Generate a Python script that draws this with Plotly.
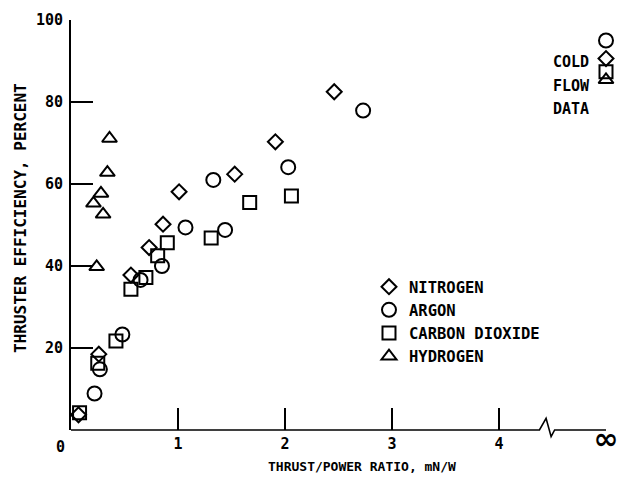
import plotly.graph_objects as go

# ---- data (x = thrust/power ratio, mN/W ; y = thruster efficiency, percent)
INF_POS = 5.0  # position of the "infinity" tick on the broken axis

nitrogen_x = [0.07, 0.26, 0.56, 0.73, 0.86, 1.01, 1.53, 1.91, 2.46]
nitrogen_y = [3.7, 18.5, 37.8, 44.5, 50.2, 58.1, 62.4, 70.3, 82.5]
nitrogen_cold = 90.6

argon_x = [0.22, 0.27, 0.48, 0.65, 0.85, 1.07, 1.33, 1.44, 2.03, 2.73]
argon_y = [8.9, 14.8, 23.3, 36.6, 40.0, 49.4, 61.0, 48.8, 64.1, 77.9]
argon_cold = 95.0

co2_x = [0.08, 0.25, 0.42, 0.56, 0.70, 0.81, 0.90, 1.31, 1.67, 2.06]
co2_y = [4.2, 16.3, 21.7, 34.3, 37.2, 42.5, 45.7, 46.8, 55.5, 57.1]
co2_cold = 87.4

hydrogen_x = [0.24, 0.21, 0.28, 0.30, 0.34, 0.36]
hydrogen_y = [39.8, 55.3, 57.7, 52.6, 62.8, 71.1]
hydrogen_cold = 85.4

x_tickvals = [1, 2, 3, 4, INF_POS]
x_ticktext = ["1", "2", "3", "4",
              '<span style="font-size:30px;font-family:DejaVu Sans">∞</span>']
y_tickvals = [20, 40, 60, 80, 100]
cold_labels = ["COLD", "FLOW", "DATA"]

FONT = "DejaVu Sans Mono, Liberation Mono, monospace"

series = [
    ("NITROGEN", nitrogen_x, nitrogen_y, nitrogen_cold, "diamond-open", 11.5),
    ("ARGON", argon_x, argon_y, argon_cold, "circle-open", 14),
    ("CARBON DIOXIDE", co2_x, co2_y, co2_cold, "square-open", 13),
    ("HYDROGEN", hydrogen_x, hydrogen_y, hydrogen_cold, "triangle-up-open", 13),
]

fig = go.Figure()
for name, xs, ys, cold, sym, size in series:
    fig.add_trace(go.Scatter(
        x=xs + [INF_POS], y=ys + [cold], mode="markers", name=name,
        marker=dict(symbol=sym, size=size, color="black", line=dict(width=2, color="black")),
        cliponaxis=False,
    ))

W, H = 621, 479
L, R, T, B = 71, 15, 20, 49
pw, ph = W - L - R, H - T - B

def px_x(v):  # data x -> paper
    return v / INF_POS

# broken x axis line with zig-zag
brk = [(0, 0), (4.378, 0), (4.44, 2.85), (4.487, -1.63), (4.52, 0), (INF_POS, 0)]
path = "M " + " L ".join(f"{px_x(a):.5f},{b/100:.5f}" for a, b in brk)
fig.add_shape(type="path", path=path, xref="paper", yref="paper",
              line=dict(color="black", width=1.6), layer="above")

def f(size):
    return dict(family=FONT, size=size, color="black", weight="bold")

fig.update_layout(
    width=W, height=H,
    margin=dict(l=L, r=R, t=T, b=B, autoexpand=False),
    paper_bgcolor="white", plot_bgcolor="white",
    font=f(15),
    showlegend=True,
    legend=dict(x=0.557, y=0.39, xanchor="left", yanchor="top",
                font=f(15.5), bgcolor="rgba(0,0,0,0)", tracegroupgap=0, itemclick=False),
)
fig.update_xaxes(range=[0, INF_POS], showgrid=False, zeroline=False, showline=False,
                 ticks="inside", ticklen=22, tickwidth=2, tickcolor="black",
                 tickvals=x_tickvals, ticktext=x_ticktext, tickfont=f(15),
                 ticklabelstandoff=3, automargin=False)
fig.update_yaxes(range=[0, 100], showgrid=False, zeroline=False, showline=True,
                 linewidth=2, linecolor="black",
                 ticks="inside", ticklen=22, tickwidth=2, tickcolor="black",
                 tickvals=y_tickvals, tickfont=f(15), ticklabelstandoff=3,
                 automargin=False)

fig.add_annotation(x=0, y=-17 / ph, xref="x", yref="paper", text="0", showarrow=False,
                   xshift=-11, yanchor="middle", font=f(15))
fig.add_annotation(x=(362 - L) / pw, y=(430 - 466) / ph, xref="paper", yref="paper",
                   text="THRUST/POWER RATIO, mN/W", showarrow=False, yanchor="middle",
                   font=f(13))
fig.add_annotation(x=(20 - L) / pw, y=(430 - 218) / ph, xref="paper", yref="paper",
                   text="THRUSTER EFFICIENCY, PERCENT", textangle=-90, showarrow=False,
                   xanchor="center", yanchor="middle", font=f(16))
for i, t in enumerate(cold_labels):
    fig.add_annotation(x=(551 - L) / pw, y=(430 - (62 + 23.5 * i)) / ph, xref="paper", yref="paper",
                       text=t, showarrow=False, xanchor="left", yanchor="middle", font=f(15))

fig.write_html("out.html")
